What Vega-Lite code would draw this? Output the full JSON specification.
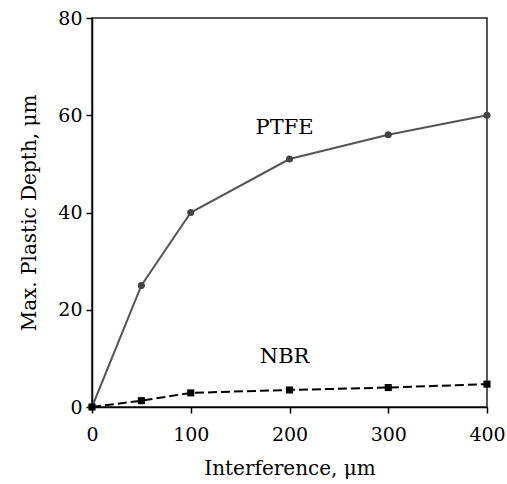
{
  "$schema": "https://vega.github.io/schema/vega-lite/v6.json",
  "width": 395,
  "height": 389,
  "autosize": {"type": "none"},
  "padding": {"left": 92, "top": 18, "right": 20, "bottom": 77},
  "background": "white",
  "config": {
    "font": "DejaVu Serif",
    "view": {"stroke": "#222", "strokeWidth": 1.5},
    "axis": {
      "grid": false,
      "domainColor": "#000",
      "domainWidth": 1.5,
      "tickColor": "#000",
      "tickWidth": 1.5,
      "tickSize": 6,
      "labelFlush": false,
      "labelFont": "DejaVu Serif",
      "labelFontSize": 19,
      "labelColor": "#000",
      "titleFont": "DejaVu Serif",
      "titleFontSize": 20,
      "titleFontWeight": "normal",
      "titleColor": "#000"
    }
  },
  "data": {
    "values": [
      {"x": 0, "y": 0, "s": "PTFE"},
      {"x": 50, "y": 25, "s": "PTFE"},
      {"x": 100, "y": 40, "s": "PTFE"},
      {"x": 200, "y": 51, "s": "PTFE"},
      {"x": 300, "y": 56, "s": "PTFE"},
      {"x": 400, "y": 60, "s": "PTFE"},
      {"x": 0, "y": 0, "s": "NBR"},
      {"x": 50, "y": 1.3, "s": "NBR"},
      {"x": 100, "y": 2.9, "s": "NBR"},
      {"x": 200, "y": 3.5, "s": "NBR"},
      {"x": 300, "y": 4.0, "s": "NBR"},
      {"x": 400, "y": 4.7, "s": "NBR"}
    ]
  },
  "layer": [
    {
      "transform": [{"filter": "datum.s === 'PTFE'"}],
      "mark": {"type": "line", "color": "#555", "strokeWidth": 2, "point": {"filled": true, "color": "#444", "size": 50, "shape": "circle"}},
      "encoding": {
        "x": {"field": "x", "type": "quantitative", "scale": {"domain": [0, 400], "nice": false}, "axis": {"values": [0, 100, 200, 300, 400], "title": "Interference, μm", "labelPadding": 12, "titlePadding": 14}},
        "y": {"field": "y", "type": "quantitative", "scale": {"domain": [0, 80], "nice": false}, "axis": {"values": [0, 20, 40, 60, 80], "title": "Max. Plastic Depth, μm", "labelPadding": 4, "titlePadding": 18}}
      }
    },
    {
      "transform": [{"filter": "datum.s === 'NBR'"}],
      "mark": {"type": "line", "color": "#000", "strokeWidth": 2, "strokeDash": [9, 4], "point": {"filled": true, "color": "#000", "size": 50, "shape": "square"}},
      "encoding": {
        "x": {"field": "x", "type": "quantitative"},
        "y": {"field": "y", "type": "quantitative"}
      }
    },
    {
      "data": {"values": [{"x": 195, "y": 57.4, "t": "PTFE"}, {"x": 195, "y": 10.3, "t": "NBR"}]},
      "mark": {"type": "text", "fontSize": 21, "font": "DejaVu Serif", "color": "#000", "align": "center", "baseline": "middle"},
      "encoding": {
        "x": {"field": "x", "type": "quantitative"},
        "y": {"field": "y", "type": "quantitative"},
        "text": {"field": "t"}
      }
    }
  ]
}
